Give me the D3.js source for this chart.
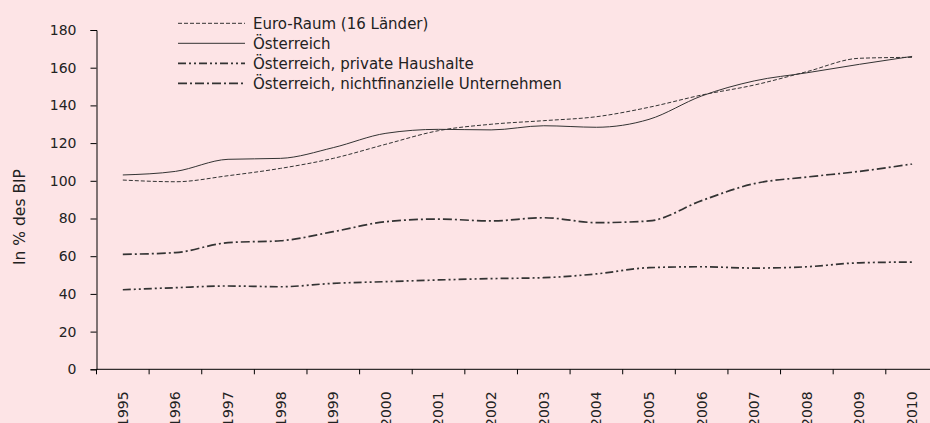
<!DOCTYPE html>
<html>
<head>
<meta charset="utf-8">
<script src="https://cdn.jsdelivr.net/npm/d3@7"></script>
<style>
	body { margin: 0; background: #fde4e6; }
	svg { display: block; font-family: "DejaVu Sans", sans-serif; }
</style>
</head>
<body>
<div class="svg-container"></div>
<script>
(function () {

	"use strict";

	// data
	var years 		= [ "1995", "1996", "1997", "1998", "1999", "2000", "2001", "2002",
						"2003", "2004", "2005", "2006", "2007", "2008", "2009", "2010" ];
	var euroraum 	= [ 100.4, 99.5, 102.7, 106.6, 111.9, 119.4, 126.6, 130.0,
						131.9, 134.0, 139.0, 145.5, 150.8, 157.9, 165.0, 165.5 ];
	var oesterreich = [ 103.1, 105.0, 111.4, 111.9, 117.6, 125.2, 127.3, 127.0,
						129.2, 128.4, 132.6, 145.0, 153.0, 157.3, 161.8, 166.0 ];
	var haushalte 	= [ 42.2, 43.3, 44.2, 43.8, 45.6, 46.5, 47.4, 48.1,
						48.6, 50.6, 53.9, 54.4, 53.7, 54.4, 56.5, 56.9 ];
	var unternehmen = [ 61.0, 61.9, 67.2, 68.2, 73.0, 78.3, 79.7, 78.7,
						80.4, 77.8, 78.7, 89.5, 98.5, 102.0, 105.0, 108.9 ];
	var y_ticks 	= [ 0, 20, 40, 60, 80, 100, 120, 140, 160, 180 ];

	var series = [
		{ name: "Euro-Raum (16 Länder)", values: euroraum, dash: "4,2", width: 1 },
		{ name: "Österreich", values: oesterreich, dash: null, width: 1 },
		{ name: "Österreich, private Haushalte", values: haushalte, dash: "8,3,2,3,2,3", width: 1.7 },
		{ name: "Österreich, nichtfinanzielle Unternehmen", values: unternehmen, dash: "9,3,2,3", width: 1.7 }
	];

	var line_color = "#333";

	var width = 930,
		height = 423,
		margin = { "top": 30, "left": 96.5, "bottom": 369.3 };

	var svg = d3.select(".svg-container").append("svg")
		.attr("width", width)
		.attr("height", height);

	var x = d3.scaleBand()
		.domain(years)
		.range([ margin.left, margin.left + 16 * 52.62 ]);

	var y = d3.scaleLinear()
		.domain([ 0, 180 ])
		.range([ margin.bottom, margin.top ]);

	// y axis
	var y_axis = svg.append("g")
		.attr("transform", "translate(" + margin.left + ",0)")
		.call(d3.axisLeft(y).tickValues(y_ticks).tickSize(6).tickPadding(14));

	y_axis.select(".domain").attr("stroke", "#000");
	y_axis.selectAll("text").attr("font-size", 14).attr("fill", "#222").attr("font-family", "DejaVu Sans");

	// x axis, ticks on band edges
	var x_axis = svg.append("g")
		.attr("transform", "translate(0," + margin.bottom + ")");

	x_axis.append("line")
		.attr("x1", margin.left).attr("x2", width)
		.attr("stroke", "#000");

	x_axis.selectAll(".tick")
		.data(years)
		.enter()
		.append("line")
		.attr("class", "tick")
		.attr("x1", function (d) { return x(d); })
		.attr("x2", function (d) { return x(d); })
		.attr("y1", 0).attr("y2", 5)
		.attr("stroke", "#000");

	x_axis.selectAll(".label")
		.data(years)
		.enter()
		.append("text")
		.attr("class", "label")
		.attr("transform", function (d) { return "translate(" + ( x(d) + x.bandwidth() / 2 ) + ",22) rotate(-90)"; })
		.attr("dy", "0.35em")
		.attr("text-anchor", "end")
		.attr("font-size", 14)
		.attr("fill", "#222")
		.text(function (d) { return d; });

	// axis title
	svg.append("text")
		.attr("transform", "translate(25,217) rotate(-90)")
		.attr("text-anchor", "middle")
		.attr("font-size", 15.5)
		.attr("fill", "#222")
		.text("In % des BIP");

	// lines
	var line = d3.line()
		.x(function (d, i) { return x(years[i]) + x.bandwidth() / 2; })
		.y(function (d) { return y(d); })
		.curve(d3.curveMonotoneX);

	svg.selectAll(".series")
		.data(series)
		.enter()
		.append("path")
		.attr("class", "series")
		.attr("d", function (d) { return line(d.values); })
		.attr("fill", "none")
		.attr("stroke", line_color)
		.attr("stroke-width", function (d) { return d.width; })
		.attr("stroke-dasharray", function (d) { return d.dash; });

	// legend
	var legend = svg.selectAll(".legend")
		.data(series)
		.enter()
		.append("g")
		.attr("class", "legend")
		.attr("transform", function (d, i) { return "translate(178," + ( 23.3 + i * 20 ) + ")"; });

	legend.append("line")
		.attr("x1", 0).attr("x2", 67)
		.attr("stroke", line_color)
		.attr("stroke-width", function (d) { return d.width; })
		.attr("stroke-dasharray", function (d) { return d.dash; });

	legend.append("text")
		.attr("x", 75)
		.attr("dy", "0.35em")
		.attr("font-size", 15)
		.attr("fill", "#222")
		.text(function (d) { return d.name; });

})();
</script>
</body>
</html>
